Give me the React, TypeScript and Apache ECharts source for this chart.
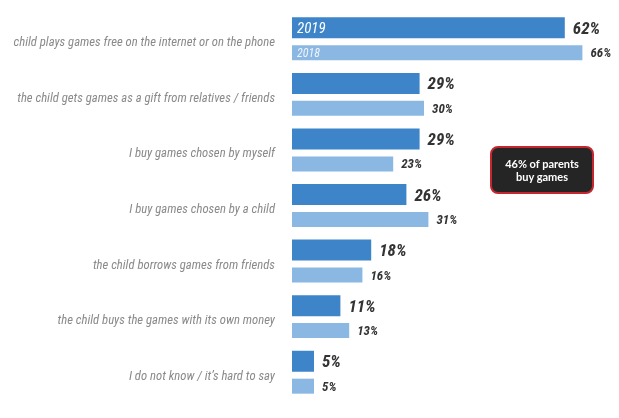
import React, { useEffect, useRef } from 'react';
import * as echarts from 'echarts';

const categories = [
  'child plays games free on the internet or on the phone',
  'the child gets games as a gift from relatives / friends',
  'I buy games chosen by myself',
  'I buy games chosen by a child',
  'the child borrows games from friends',
  'the child buys the games with its own money',
  'I do not know / it\u2019s hard to say',
];
const values2019 = [62, 29, 29, 26, 18, 11, 5];
const values2018 = [66, 30, 23, 31, 16, 13, 5];
const seriesNames = ['2019', '2018'];
const noteText = '46% of parents\nbuy games';

export default function App() {
  const ref = useRef<HTMLDivElement>(null);
  useEffect(() => {
    const chart = echarts.init(ref.current!, null, { renderer: 'svg' });
    const font = "'Liberation Sans Narrow', 'Roboto Condensed', 'DejaVu Sans Condensed', Roboto, sans-serif";
    const gridLeft = 292;
    const gridTop = 11;
    const gridBottom = 18;
    const bandH = (418 - gridTop - gridBottom) / categories.length;
    const firstCenter = gridTop + bandH / 2;
    chart.setOption({
      animation: false,
      grid: { left: gridLeft, right: 19, top: gridTop, bottom: gridBottom },
      xAxis: { type: 'value', min: 0, max: 70, show: false },
      yAxis: {
        type: 'category',
        data: categories,
        inverse: true,
        axisLine: { show: false },
        axisTick: { show: false },
        axisLabel: {
          margin: 17,
          color: '#8a8a8a',
          fontStyle: 'italic',
          fontSize: 12.7,
          fontFamily: font,
          lineHeight: 20,
          verticalAlign: 'top',
          padding: [-7, 0, 0, 0],
        },
      },
      series: [
        {
          name: seriesNames[0],
          type: 'bar',
          data: values2019,
          barWidth: 21,
          barGap: '33%',
          itemStyle: { color: '#3d85c8' },
          label: {
            show: true,
            position: 'right',
            distance: 8,
            formatter: '{c}%',
            fontSize: 17,
            fontWeight: 'bold',
            fontStyle: 'italic',
            color: '#333333',
            fontFamily: font,
          },
        },
        {
          name: seriesNames[1],
          type: 'bar',
          data: values2018,
          barWidth: 15,
          barGap: '33%',
          itemStyle: { color: '#8bb8e3' },
          label: {
            show: true,
            position: 'right',
            distance: 8,
            formatter: '{c}%',
            fontSize: 13,
            fontWeight: 'bold',
            fontStyle: 'italic',
            color: '#333333',
            fontFamily: font,
          },
        },
      ],
      graphic: [
        {
          type: 'text',
          z: 100,
          x: gridLeft + 5,
          y: firstCenter - 11,
          style: {
            text: seriesNames[0],
            fill: '#ffffff',
            fontSize: 15,
            fontStyle: 'italic',
            fontFamily: font,
            verticalAlign: 'middle',
          },
        },
        {
          type: 'text',
          z: 100,
          x: gridLeft + 5,
          y: firstCenter + 14,
          style: {
            text: seriesNames[1],
            fill: '#eef4fb',
            fontSize: 12,
            fontStyle: 'italic',
            fontFamily: font,
            verticalAlign: 'middle',
          },
        },
        {
          type: 'rect',
          z: 100,
          shape: { x: 491, y: 147, width: 102, height: 46, r: 7 },
          style: { fill: '#252525', stroke: '#c4272e', lineWidth: 2 },
        },
        {
          type: 'text',
          z: 101,
          x: 542,
          y: 170,
          style: {
            text: noteText,
            fill: '#ffffff',
            fontSize: 11,
            fontWeight: 'bold',
            lineHeight: 13,
            fontFamily: "Lato, 'Open Sans', sans-serif",
            align: 'center',
            verticalAlign: 'middle',
          },
        },
      ],
    });
    return () => chart.dispose();
  }, []);
  return (
    <div
      ref={ref}
      style={{ position: 'fixed', left: 0, top: 0, width: 619, height: 418 }}
    />
  );
}
